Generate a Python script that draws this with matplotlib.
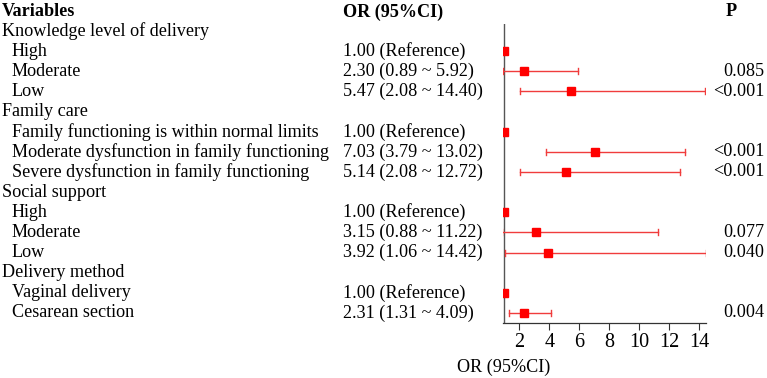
import matplotlib
matplotlib.use("Agg")
import matplotlib.pyplot as plt
import matplotlib.transforms as mtransforms
import numpy as np

plt.rcParams['font.family'] = ['Liberation Serif', 'DejaVu Serif']

labels = ["Knowledge level of delivery", "High", "Moderate", "Low",
          "Family care", "Family functioning is within normal limits",
          "Moderate dysfunction in family functioning",
          "Severe dysfunction in family functioning",
          "Social support", "High", "Moderate", "Low",
          "Delivery method", "Vaginal delivery", "Cesarean section"]
is_group = [True, False, False, False, True, False, False, False,
            True, False, False, False, True, False, False]
or_vals = [np.nan, 1.00, 2.30, 5.47, np.nan, 1.00, 7.03, 5.14,
           np.nan, 1.00, 3.15, 3.92, np.nan, 1.00, 2.31]
ci_low = [np.nan, np.nan, 0.89, 2.08, np.nan, np.nan, 3.79, 2.08,
          np.nan, np.nan, 0.88, 1.06, np.nan, np.nan, 1.31]
ci_high = [np.nan, np.nan, 5.92, 14.40, np.nan, np.nan, 13.02, 12.72,
           np.nan, np.nan, 11.22, 14.42, np.nan, np.nan, 4.09]
or_text = ["", "1.00 (Reference)", "2.30 (0.89 ~ 5.92)", "5.47 (2.08 ~ 14.40)",
           "", "1.00 (Reference)", "7.03 (3.79 ~ 13.02)", "5.14 (2.08 ~ 12.72)",
           "", "1.00 (Reference)", "3.15 (0.88 ~ 11.22)", "3.92 (1.06 ~ 14.42)",
           "", "1.00 (Reference)", "2.31 (1.31 ~ 4.09)"]
p_text = ["", "", "0.085", "<0.001", "", "", "<0.001", "<0.001",
          "", "", "0.077", "0.040", "", "", "0.004"]
xticks = [2, 4, 6, 8, 10, 12, 14]

W, H = 767, 378
fig = plt.figure(figsize=(W / 100, H / 100), dpi=100)
ax = fig.add_axes([503 / W, (H - 323) / H, (706 - 503) / W, (323 - 24) / H])

n = len(labels)
ys = np.arange(n)
ax.set_ylim(n - 0.5, -0.35)
ax.set_xlim(0.92, 14.45)

line_c = '#f03c3c'
for y, o, lo, hi in zip(ys, or_vals, ci_low, ci_high):
    if np.isnan(o):
        continue
    if not np.isnan(lo):
        ax.plot([lo, hi], [y, y], color=line_c, lw=1.0, zorder=2)
        ax.plot([lo, lo], [y - 0.15, y + 0.15], color=line_c, lw=1.0, zorder=2)
        ax.plot([hi, hi], [y - 0.15, y + 0.15], color=line_c, lw=1.0, zorder=2)
    ax.plot([o], [y], marker='s', color='red', ms=5.6, zorder=3, linestyle='none')

ax.axvline(1, color='#555555', lw=1.0, zorder=1)

for s in ['top', 'right', 'left']:
    ax.spines[s].set_visible(False)
ax.spines['bottom'].set_color('#333333')
ax.spines['bottom'].set_linewidth(0.9)
ax.set_yticks([])
ax.set_xticks(xticks)
ax.set_xticklabels([str(t) for t in xticks], fontsize=14.5)
ax.tick_params(axis='x', length=5, color='#333333', pad=2)

trans = mtransforms.blended_transform_factory(fig.transFigure, ax.transData)
fs = 13.1
header_y = -0.95
fig.text(2 / W, header_y, "Variables", transform=trans, fontsize=fs, fontweight='bold',
         va='center', ha='left')
fig.text(343 / W, header_y, "OR (95%CI)", transform=trans, fontsize=fs, fontweight='bold',
         va='center', ha='left')
fig.text(731 / W, header_y, "P", transform=trans, fontsize=fs, fontweight='bold',
         va='center', ha='center')

for y, lab, g, ot, pt in zip(ys, labels, is_group, or_text, p_text):
    fig.text((2 if g else 12) / W, y, lab, transform=trans, fontsize=fs,
             va='center', ha='left')
    if ot:
        fig.text(343 / W, y, ot, transform=trans, fontsize=fs, va='center', ha='left')
    if pt:
        fig.text(764 / W, y, pt, transform=trans, fontsize=fs, va='center', ha='right')

fig.text(504 / W, (H - 367) / H, "OR (95%CI)", fontsize=fs, ha='center', va='center')

fig.savefig("out.png", dpi=100)
